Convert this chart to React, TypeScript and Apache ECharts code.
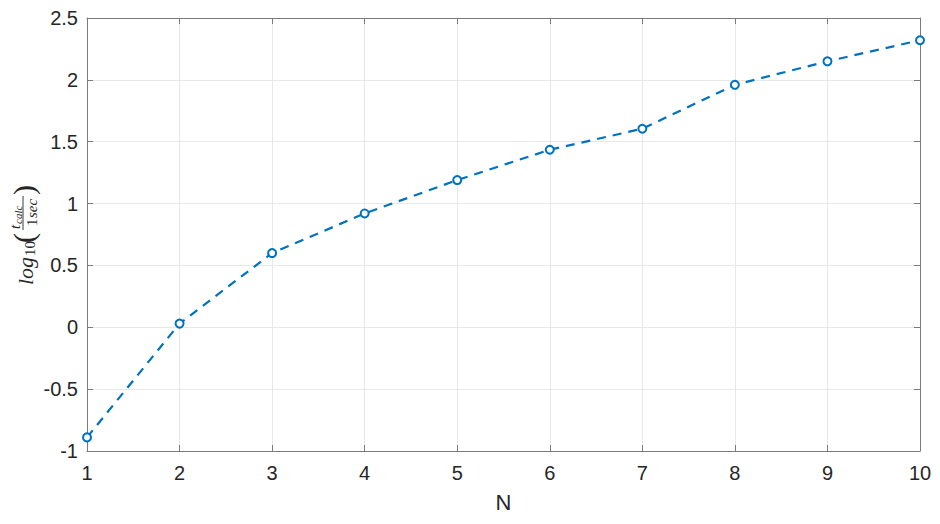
import React, { useEffect, useRef } from "react";
import * as echarts from "echarts";

const nValues = [1, 2, 3, 4, 5, 6, 7, 8, 9, 10];
const logTime = [-0.89, 0.03, 0.6, 0.92, 1.19, 1.435, 1.605, 1.96, 2.15, 2.32];
const xLabelName = "N";

export default function App() {
  const ref = useRef<HTMLDivElement>(null);
  useEffect(() => {
    const chart = echarts.init(ref.current!, undefined, { renderer: "svg" });
    const axisColor = "#7a7a7a";
    const labelColor = "#262626";
    const font = "Liberation Sans, Arial, Helvetica, sans-serif";
    const serif = "Liberation Serif, Times New Roman, serif";
    const baseX = {
      type: "value",
      min: 1,
      max: 10,
      interval: 1,
      axisLine: { show: true, onZero: false, lineStyle: { color: axisColor, width: 1 } },
      axisTick: { show: true, inside: true, length: 6, lineStyle: { color: axisColor } },
    };
    const baseY = {
      type: "value",
      min: -1,
      max: 2.5,
      interval: 0.5,
      axisLine: { show: true, onZero: false, lineStyle: { color: axisColor, width: 1 } },
      axisTick: { show: true, inside: true, length: 6, lineStyle: { color: axisColor } },
    };
    const t = (text: string, x: number, y: number, f: string) => ({
      type: "text",
      x,
      y,
      style: { text, font: f, fill: labelColor, textAlign: "left", textVerticalAlign: "middle" },
    });
    chart.setOption({
      animation: false,
      backgroundColor: "#ffffff",
      grid: { left: 87, right: 20, top: 18, bottom: 73, containLabel: false, outerBoundsMode: "none" },
      xAxis: [
        {
          ...baseX,
          position: "bottom",
          name: xLabelName,
          nameLocation: "middle",
          nameGap: 40,
          nameTextStyle: { fontSize: 22, color: labelColor, fontFamily: font },
          axisLabel: { fontSize: 20, color: labelColor, fontFamily: font, margin: 12 },
          splitLine: { show: true, lineStyle: { color: "#e8e8e8", width: 1 } },
        },
        {
          ...baseX,
          position: "top",
          axisLabel: { show: false },
          splitLine: { show: false },
        },
      ],
      yAxis: [
        {
          ...baseY,
          position: "left",
          axisLabel: { fontSize: 20, color: labelColor, fontFamily: font, margin: 9 },
          splitLine: { show: true, lineStyle: { color: "#e8e8e8", width: 1 } },
        },
        {
          ...baseY,
          position: "right",
          axisLabel: { show: false },
          splitLine: { show: false },
        },
      ],
      series: [
        {
          type: "line",
          data: nValues.map((n, i) => [n, logTime[i]]),
          lineStyle: { color: "#0072BD", width: 2.2, type: [9, 7] },
          symbol: "emptyCircle",
          symbolSize: 8,
          itemStyle: { color: "#0072BD", borderColor: "#0072BD", borderWidth: 2 },
          clip: false,
        },
      ],
      graphic: [
        {
          type: "group",
          x: 24,
          y: 233,
          rotation: Math.PI / 2,
          children: [
            t("log", -52, 1, `italic 22px ${serif}`),
            t("10", -23, 6, `15px ${serif}`),
            t("(", -10, -1, `30px ${serif}`),
            t("t", 4, -9, `italic 15px ${serif}`),
            t("calc", 9, -6, `italic 11px ${serif}`),
            { type: "line", shape: { x1: 3, y1: -1, x2: 37, y2: -1 }, style: { stroke: labelColor, lineWidth: 0.9 } },
            t("1", 7, 8, `15px ${serif}`),
            t("sec", 15, 8, `italic 15px ${serif}`),
            t(")", 38, -1, `30px ${serif}`),
          ],
        },
      ],
    });
    return () => chart.dispose();
  }, []);
  return <div ref={ref} style={{ width: 940, height: 524, position: "absolute", left: 0, top: 0 }} />;
}
